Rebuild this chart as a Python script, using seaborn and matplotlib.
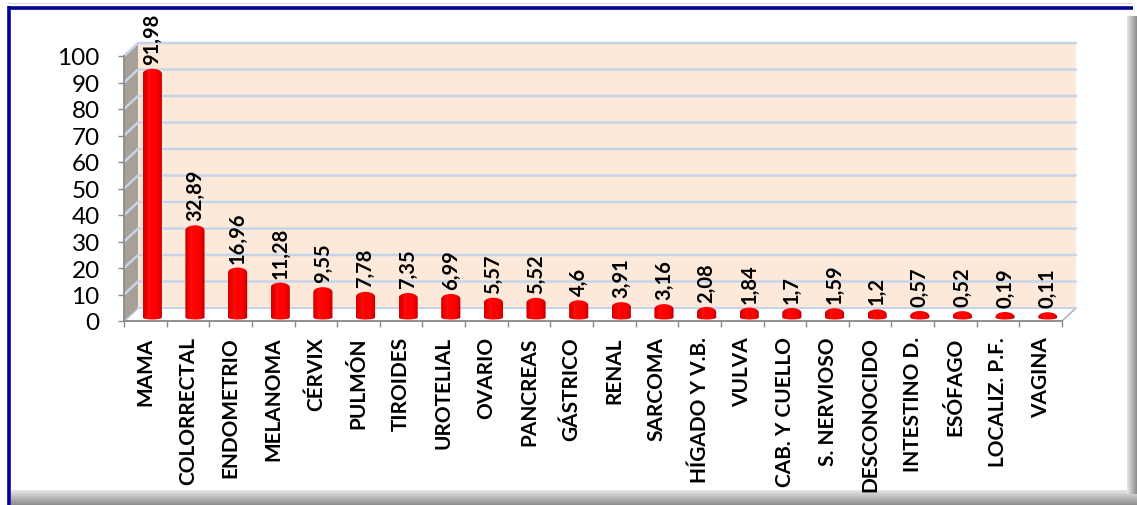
import numpy as np
import matplotlib
matplotlib.use("Agg")
import matplotlib.pyplot as plt
import seaborn as sns
import pandas as pd
from matplotlib.patches import Polygon, PathPatch
from matplotlib.path import Path
from matplotlib.lines import Line2D
from matplotlib.transforms import offset_copy, IdentityTransform
from matplotlib.ticker import FixedLocator

categories = ["MAMA", "COLORRECTAL", "ENDOMETRIO", "MELANOMA", "CÉRVIX", "PULMÓN",
              "TIROIDES", "UROTELIAL", "OVARIO", "PANCREAS", "GÁSTRICO", "RENAL",
              "SARCOMA", "HÍGADO Y V.B.", "VULVA", "CAB. Y CUELLO", "S. NERVIOSO",
              "DESCONOCIDO", "INTESTINO D.", "ESÓFAGO", "LOCALIZ. P.F.", "VAGINA"]
values = [91.98, 32.89, 16.96, 11.28, 9.55, 7.78, 7.35, 6.99, 5.57, 5.52, 4.6,
          3.91, 3.16, 2.08, 1.84, 1.7, 1.59, 1.2, 0.57, 0.52, 0.19, 0.11]
y_ticks = list(range(0, 101, 10))

W, H, DPI = 1137, 506, 100
DX, DY = 14, 13          # depth of the pseudo-3D box, in pixels
BAR_DX, BAR_DY = 7, 3.5  # bars stand in the middle of the floor
CAP_TOP, CAP_BOT = 5.0, 2.0  # half-heights of the rounded bar ends, in pixels

sns.set_theme(style="white")
plt.rcParams["font.family"] = ["Lato", "DejaVu Sans"]

fig = plt.figure(figsize=(W / DPI, H / DPI), dpi=DPI)
fig.patch.set_facecolor("white")

# ---- frame: background axes in pixel coordinates -------------------------
bg = fig.add_axes([0, 0, 1, 1], zorder=-5)
bg.set_xlim(0, W)
bg.set_ylim(H, 0)
bg.axis("off")
shade = np.linspace(0, 1, 64)
grey_cmap = sns.light_palette("#8c8c8c", as_cmap=True)
bg.imshow(np.tile(shade[:, None], (1, 4)), cmap=grey_cmap,
          extent=[11, W, H, 491], aspect="auto", vmin=-0.1, vmax=1, zorder=1)
bg.imshow(np.tile(shade[None, :], (4, 1)), cmap=grey_cmap,
          extent=[1127, W, 495, 17], aspect="auto", vmin=-0.1, vmax=1, zorder=1)
bg.set_xlim(0, W)
bg.set_ylim(H, 0)
bg.plot([7, 1132], [4, 4], color="#dcdcdc", lw=1, solid_capstyle="butt", zorder=2)
bg.plot([9, 9], [7, H], color="#000099", lw=2.6, solid_capstyle="butt", zorder=3)
bg.plot([7.7, 1133], [8.5, 8.5], color="#000099", lw=2.6, solid_capstyle="butt", zorder=3)

# ---- plotting axes --------------------------------------------------------
ax_l, ax_r, ax_t, ax_b = 124, 1062, 57, 322
ax = fig.add_axes([ax_l / W, 1 - ax_b / H, (ax_r - ax_l) / W, (ax_b - ax_t) / H])
ax.set_zorder(1)
ax.patch.set_visible(False)

df = pd.DataFrame({"cat": categories, "val": values})
sns.barplot(data=df, x="cat", y="val", color="red", width=0.45, ax=ax,
            saturation=1)

XLIM = (-0.5, len(categories) - 0.5)
YLIM = (0, 100)
ax.set_xlim(*XLIM)
ax.set_ylim(*YLIM)

mid = offset_copy(ax.transData, fig=fig, x=BAR_DX, y=BAR_DY, units="dots")

x0, x1 = XLIM
ident = IdentityTransform()


def disp(pt, dx=0, dy=0):
    p = ax.transData.transform(pt)
    return (p[0] + dx, p[1] + dy)


# back wall
fig.add_artist(Polygon([disp((x0, 0), DX, DY), disp((x1, 0), DX, DY),
                        disp((x1, 100), DX, DY), disp((x0, 100), DX, DY)],
                       closed=True, transform=ident, facecolor="#fde9d9",
                       edgecolor="none", zorder=0.1))
# side wall
fig.add_artist(Polygon([disp((x0, 0)), disp((x0, 0), DX, DY),
                        disp((x0, 100), DX, DY), disp((x0, 100))],
                       closed=True, transform=ident, facecolor="#a8a096",
                       edgecolor="none", zorder=0.1))
# floor
fig.add_artist(Polygon([disp((x0, 0)), disp((x0, 0), DX, DY),
                        disp((x1, 0), DX, DY), disp((x1, 0))],
                       closed=True, transform=ident, facecolor="white",
                       edgecolor="#b4b4b4", lw=1.2, zorder=0.2))

# gridlines on the back wall and the side wall
for t in y_ticks[1:]:
    p0, p1 = disp((x0, t)), disp((x0, t), DX, DY)
    p2 = disp((x1, t), DX, DY)
    fig.add_artist(Line2D([p0[0], p1[0], p2[0]], [p0[1], p1[1], p2[1]],
                          transform=ident, color="#c6d4ea", lw=1.8, zorder=0.3))
pb0, pb1 = disp((x0, 0), DX, DY), disp((x1, 0), DX, DY)
fig.add_artist(Line2D([pb0[0], pb1[0]], [pb0[1], pb1[1]], transform=ident,
                      color="#c6d4ea", lw=1.5, zorder=0.25))

# horizontal shading of a red cylinder (left to right)
shade_rgb = np.array([[[0.84, 0, 0], [0.96, 0, 0], [1, 0.04, 0.04], [1, 0, 0],
                       [1, 0, 0], [0.99, 0, 0], [0.92, 0, 0], [0.78, 0, 0]]])

# cylinders built from the seaborn bars
bars = list(ax.patches)
for patch, v in zip(bars, values):
    bx, bw, bh = patch.get_x(), patch.get_width(), patch.get_height()
    patch.set_visible(False)
    (lx, by) = mid.transform((bx, 0))
    (rx, ty) = mid.transform((bx + bw, bh))
    cx, rxr = (lx + rx) / 2, (rx - lx) / 2
    ang_top = np.linspace(np.pi, 0, 40)
    ang_bot = np.linspace(0, -np.pi, 40)
    pts = np.vstack([[lx, by], [lx, ty],
                     np.column_stack([cx + rxr * np.cos(ang_top),
                                      ty + CAP_TOP * np.sin(ang_top)]),
                     [rx, by],
                     np.column_stack([cx + rxr * np.cos(ang_bot),
                                      by + CAP_BOT * np.sin(ang_bot)]),
                     [lx, by]])
    pts_d = mid.inverted().transform(pts)
    clip = PathPatch(Path(pts_d, closed=True), transform=mid, facecolor="none",
                     edgecolor="none")
    ax.add_patch(clip)
    lo = mid.inverted().transform((lx, by - CAP_BOT - 1))[1]
    hi = mid.inverted().transform((rx, ty + CAP_TOP + 1))[1]
    im = ax.imshow(shade_rgb, aspect="auto", extent=[bx, bx + bw, lo, hi],
                   transform=mid, zorder=3, interpolation="bilinear")
    im.set_clip_path(clip)
    ax.set_xlim(*XLIM)
    ax.set_ylim(*YLIM)
    ax.annotate(f"{v:g}".replace(".", ","), (bx + bw / 2, bh),
                xytext=(BAR_DX, BAR_DY + CAP_TOP + 5), textcoords="offset pixels",
                rotation=90, ha="center", va="bottom", fontsize=14.5,
                fontweight="bold", color="black", zorder=5,
                annotation_clip=False)

ax.set_xlim(*XLIM)
ax.set_ylim(*YLIM)
ax.set_xlabel("")
ax.set_ylabel("")

# axes, ticks and labels
for s in ["top", "right"]:
    ax.spines[s].set_visible(False)
for s in ["left", "bottom"]:
    ax.spines[s].set_color("#8c8c8c")
    ax.spines[s].set_linewidth(1.3)
    ax.spines[s].set_zorder(0.4)

ax.set_yticks(y_ticks)
ax.set_yticklabels([str(t) for t in y_ticks], fontsize=17.5, color="black")
ax.tick_params(axis="y", which="major", length=4.5, width=1, color="#8c8c8c",
               pad=13, left=True)

ax.set_xticks(range(len(categories)))
ax.set_xticklabels(categories, rotation=90, fontsize=15, fontweight="bold",
                   color="black", va="top", ha="center")
ax.tick_params(axis="x", which="major", length=0, pad=11)
ax.xaxis.set_minor_locator(FixedLocator(np.arange(-0.5, len(categories), 1.0)))
ax.tick_params(axis="x", which="minor", length=4.5, width=1, color="#8c8c8c",
               bottom=True)

fig.savefig("out.png", dpi=DPI, facecolor="white")
